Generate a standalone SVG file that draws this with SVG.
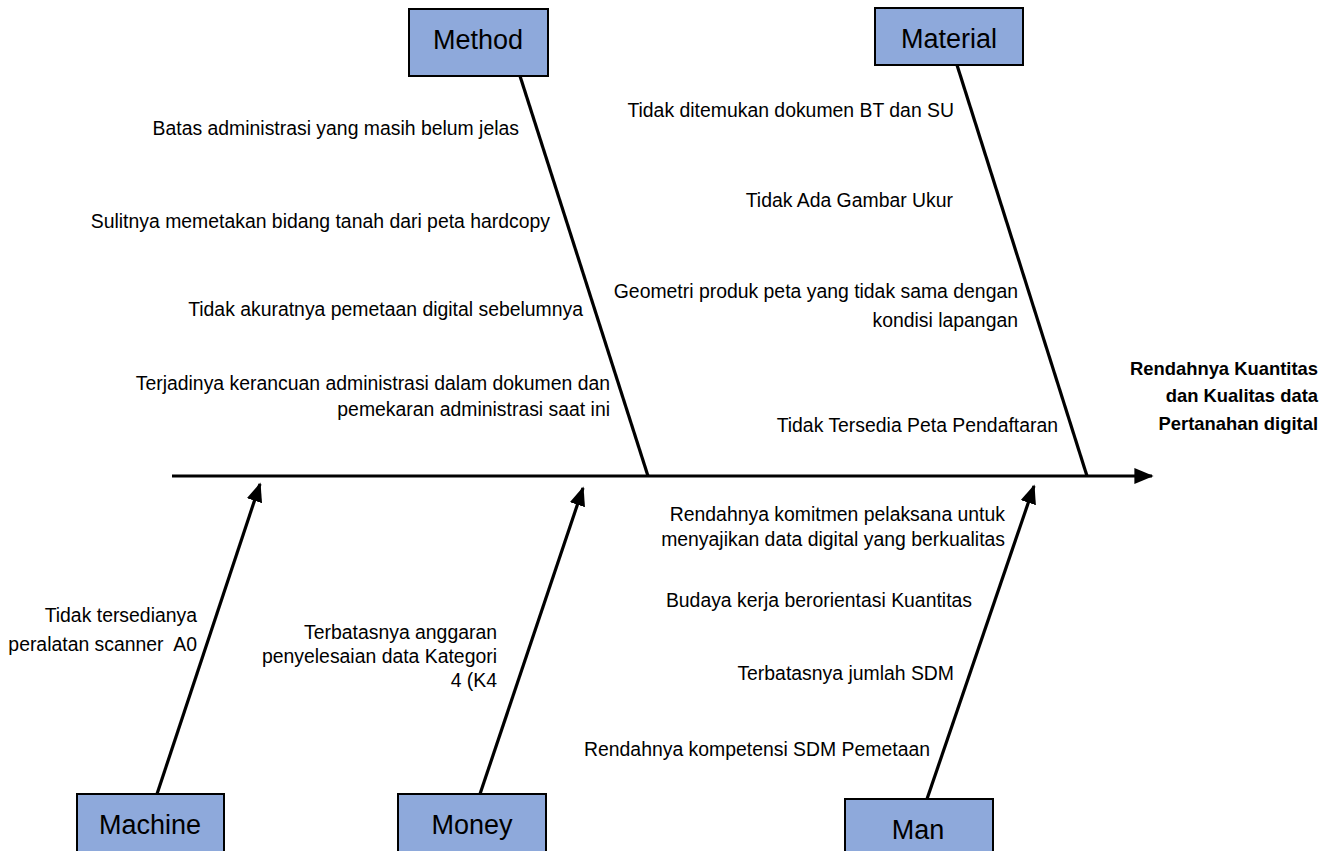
<svg xmlns="http://www.w3.org/2000/svg" width="1334" height="851" viewBox="0 0 1334 851">
<style>
.box{fill:#8EA9DB;stroke:#000;stroke-width:2}
.bl{font-family:"Liberation Sans",Arial,sans-serif;font-size:27px;fill:#000;text-anchor:middle}
.t{font-family:"Liberation Sans",Arial,sans-serif;font-size:19.4px;fill:#000;text-anchor:end;white-space:pre}
.title{font-family:"Liberation Sans",Arial,sans-serif;font-size:18.4px;font-weight:bold;fill:#000;text-anchor:end}
.bone{stroke:#000;stroke-width:3.2;fill:none}
</style>
<defs>
<marker id="ah" viewBox="0 0 12 10" refX="11" refY="5" markerWidth="6" markerHeight="5" markerUnits="strokeWidth" orient="auto">
<path d="M0,0 L12,5 L0,10 Z" fill="#000"/>
</marker>
</defs>
<rect width="1334" height="851" fill="#fff"/>
<g id="connectors">
<line class="bone" x1="172" y1="476" x2="1152" y2="476" marker-end="url(#ah)"/>
<line class="bone" x1="520" y1="76" x2="648" y2="476"/>
<line class="bone" x1="957" y1="65" x2="1087" y2="476"/>
<line class="bone" x1="157" y1="794" x2="260" y2="484" marker-end="url(#ah)"/>
<line class="bone" x1="480" y1="794" x2="583" y2="488" marker-end="url(#ah)"/>
<line class="bone" x1="927" y1="799" x2="1034" y2="486" marker-end="url(#ah)"/>
</g>
<g id="method">
<rect class="box" x="409" y="9" width="139" height="67"/>
<text class="bl" x="478" y="49">Method</text>
</g>
<g id="material">
<rect class="box" x="875" y="8" width="148" height="57"/>
<text class="bl" x="949" y="48">Material</text>
</g>
<g id="machine">
<rect class="box" x="77" y="794" width="147" height="70"/>
<text class="bl" x="150" y="834">Machine</text>
</g>
<g id="money">
<rect class="box" x="398" y="794" width="148" height="70"/>
<text class="bl" x="472" y="834">Money</text>
</g>
<g id="man">
<rect class="box" x="845" y="799" width="148" height="70"/>
<text class="bl" x="918" y="839">Man</text>
</g>
<g id="effect">
<text class="title" x="1318" y="375">Rendahnya Kuantitas</text>
<text class="title" x="1318" y="402">dan Kualitas data</text>
<text class="title" x="1318" y="430">Pertanahan digital</text>
</g>
<g id="method-causes">
<text class="t" x="519" y="135">Batas administrasi yang masih belum jelas</text>
<text class="t" x="550" y="228">Sulitnya memetakan bidang tanah dari peta hardcopy</text>
<text class="t" x="583" y="316">Tidak akuratnya pemetaan digital sebelumnya</text>
<text class="t" x="610" y="390">Terjadinya kerancuan administrasi dalam dokumen dan</text>
<text class="t" x="610" y="416">pemekaran administrasi saat ini</text>
</g>
<g id="material-causes">
<text class="t" x="954" y="117">Tidak ditemukan dokumen BT dan SU</text>
<text class="t" x="953" y="207">Tidak Ada Gambar Ukur</text>
<text class="t" x="1018" y="298">Geometri produk peta yang tidak sama dengan</text>
<text class="t" x="1018" y="327">kondisi lapangan</text>
<text class="t" x="1058" y="432">Tidak Tersedia Peta Pendaftaran</text>
</g>
<g id="machine-causes">
<text class="t" x="197" y="622">Tidak tersedianya</text>
<text class="t" x="197" y="651">peralatan scanner  A0</text>
</g>
<g id="money-causes">
<text class="t" x="497" y="639">Terbatasnya anggaran</text>
<text class="t" x="497" y="663">penyelesaian data Kategori</text>
<text class="t" x="497" y="687">4 (K4</text>
</g>
<g id="man-causes">
<text class="t" x="1005" y="521">Rendahnya komitmen pelaksana untuk</text>
<text class="t" x="1005" y="546">menyajikan data digital yang berkualitas</text>
<text class="t" x="972" y="607">Budaya kerja berorientasi Kuantitas</text>
<text class="t" x="954" y="680">Terbatasnya jumlah SDM</text>
<text class="t" x="930" y="756">Rendahnya kompetensi SDM Pemetaan</text>
</g>
</svg>
